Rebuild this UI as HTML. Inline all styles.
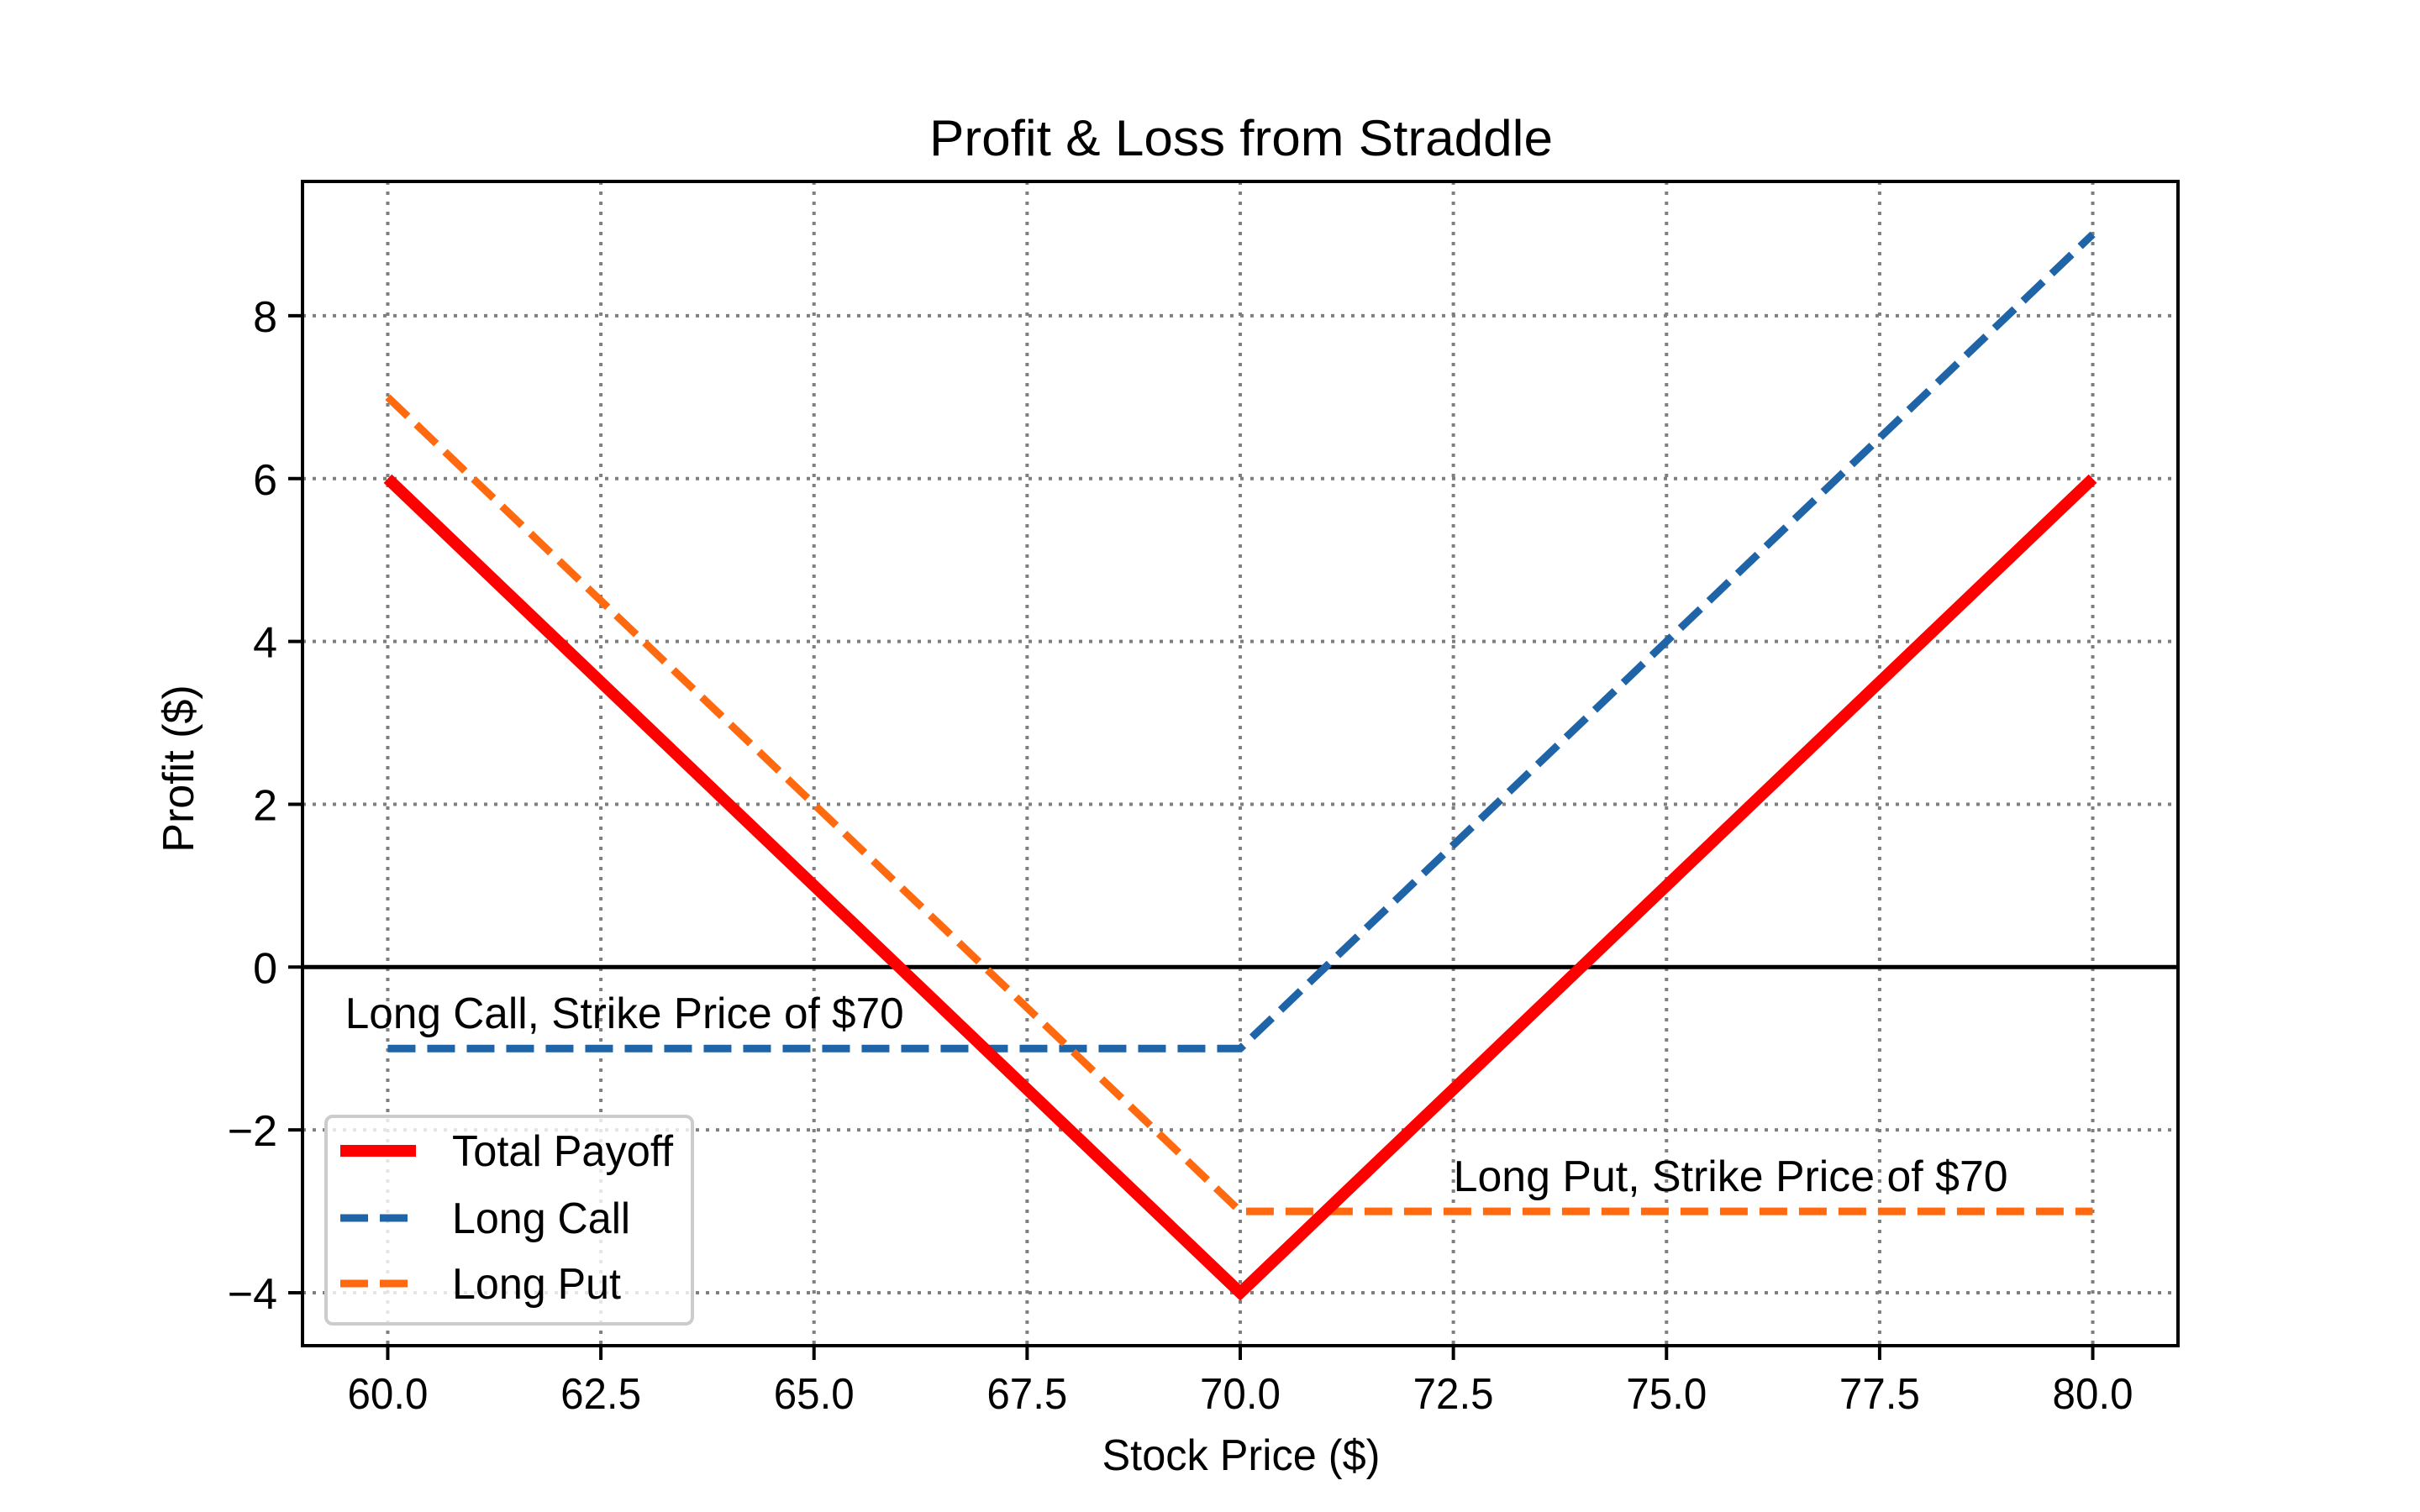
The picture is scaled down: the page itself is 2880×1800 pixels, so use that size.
<!DOCTYPE html>
<html><head><meta charset="utf-8"><style>
html,body{margin:0;padding:0;background:#fff;}
svg{display:block;font-family:"Liberation Sans","DejaVu Sans",sans-serif;}
</style></head><body>
<svg id="chart" width="2880" height="1800" viewBox="0 0 2880 1800" xmlns="http://www.w3.org/2000/svg">
<rect width="2880" height="1800" fill="#fff"/>
<g id="grid"></g>
<g id="series"></g>
<rect x="360" y="216" width="2232" height="1386" fill="none" stroke="#000" stroke-width="4"/>
<g id="ticks"></g>
<text x="1477" y="185" font-size="60" text-anchor="middle" textLength="742" lengthAdjust="spacingAndGlyphs">Profit &amp; Loss from Straddle</text>
<text x="1477" y="1750" font-size="52" text-anchor="middle" textLength="331" lengthAdjust="spacingAndGlyphs">Stock Price ($)</text>
<text x="0" y="0" font-size="52" text-anchor="middle" transform="translate(230,915) rotate(-90)">Profit ($)</text>
<g id="annot"></g>
<g>
<rect x="388" y="1329" width="436" height="247" rx="8" fill="#fff" fill-opacity="0.8" stroke="#ccc" stroke-width="4"/>
<line x1="405" y1="1370" x2="495" y2="1370" stroke="#ff0000" stroke-width="14"/>
<text x="538" y="1388" font-size="52" textLength="263" lengthAdjust="spacingAndGlyphs">Total Payoff</text>
<line x1="405" y1="1450" x2="495" y2="1450" stroke="#1f64a7" stroke-width="9" stroke-dasharray="33,14"/>
<text x="538" y="1468" font-size="52" textLength="212" lengthAdjust="spacingAndGlyphs">Long Call</text>
<line x1="405" y1="1528" x2="495" y2="1528" stroke="#ff6a10" stroke-width="9" stroke-dasharray="33,14"/>
<text x="538" y="1546" font-size="52" textLength="201" lengthAdjust="spacingAndGlyphs">Long Put</text>
</g>
</svg>
<script>
const prices = [60, 70, 80];
const totalPayoff = [6, -4, 6];
const longCall = [-1, -1, 9];
const longPut = [7, -3, -3];
const xTicks = [60, 62.5, 65, 67.5, 70, 72.5, 75, 77.5, 80];
const xTickLabels = ["60.0","62.5","65.0","67.5","70.0","72.5","75.0","77.5","80.0"];
const yTicks = [-4, -2, 0, 2, 4, 6, 8];
const yTickLabels = ["\u22124","\u22122","0","2","4","6","8"];

const NS = "http://www.w3.org/2000/svg";
const L=360,R=2592,T=216,B=1602, XMIN=59, XMAX=81, YMIN=-4.65, YMAX=9.65;
function sx(v){return L+(v-XMIN)/(XMAX-XMIN)*(R-L);}
function sy(v){return B-(v-YMIN)/(YMAX-YMIN)*(B-T);}
function mk(tag, attrs, parent){const e=document.createElementNS(NS,tag);for(const k in attrs)e.setAttribute(k,attrs[k]);parent.appendChild(e);return e;}

const grid=document.getElementById('grid'), ticks=document.getElementById('ticks'), series=document.getElementById('series'), annot=document.getElementById('annot');
xTicks.forEach((v,i)=>{
  const g=mk('line',{x1:sx(v),x2:sx(v),y1:T,y2:B,stroke:'#7f7f7f','stroke-width':4,'stroke-dasharray':'4,8'},grid);
  
  
  const t=mk('line',{x1:sx(v),x2:sx(v),y1:B,y2:B+17,stroke:'#000','stroke-width':4},ticks);
  
  
  const l=mk('text',{x:sx(v),y:1677,'font-size':52,'text-anchor':'middle',textLength:96,lengthAdjust:'spacingAndGlyphs'},ticks);
  l.textContent=xTickLabels[i];
  
  
});
yTicks.forEach((v,i)=>{
  const g=mk('line',{x1:L,x2:R,y1:sy(v),y2:sy(v),stroke:'#7f7f7f','stroke-width':4,'stroke-dasharray':'4,8'},grid);
  
  
  const t=mk('line',{x1:L-17,x2:L,y1:sy(v),y2:sy(v),stroke:'#000','stroke-width':4},ticks);
  
  
  const l=mk('text',{x:330,y:sy(v)+19,'font-size':52,'text-anchor':'end'},ticks);
  l.textContent=yTickLabels[i];
  
  
});
const zero=mk('line',{x1:L,x2:R,y1:sy(0),y2:sy(0),stroke:'#000','stroke-width':5},series);


function poly(vals,color,w,dash,name){
  const pts=prices.map((p,i)=>sx(p)+','+sy(vals[i])).join(' ');
  const a={points:pts,fill:'none',stroke:color,'stroke-width':w,'stroke-linejoin':'miter'};
  if(dash)a['stroke-dasharray']=dash;
  const e=mk('polyline',a,series);
  
  
}
poly(longCall,'#1f64a7',9,'33,14','long-call-line');
poly(longPut,'#ff6a10',9,'33,14','long-put-line');
poly(totalPayoff,'#ff0000',14,null,'total-payoff-line');
const a1=mk('text',{x:sx(59.5),y:sy(-0.75),'font-size':52,textLength:665,lengthAdjust:'spacingAndGlyphs'},annot);
a1.textContent='Long Call, Strike Price of $70';


const a2=mk('text',{x:sx(72.5),y:sy(-2.75),'font-size':52,textLength:660,lengthAdjust:'spacingAndGlyphs'},annot);
a2.textContent='Long Put, Strike Price of $70';


</script>
</body></html>
